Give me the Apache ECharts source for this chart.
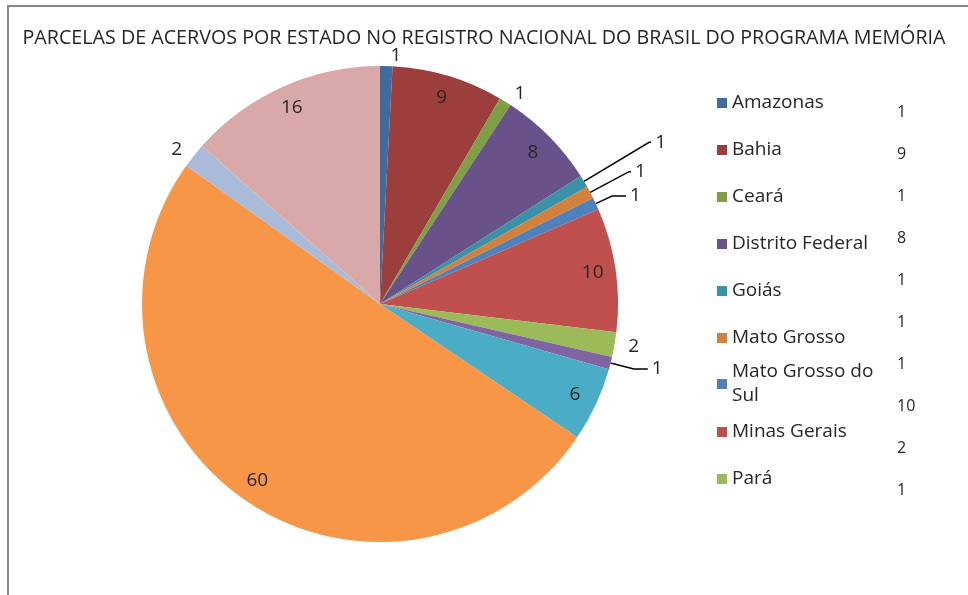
<!DOCTYPE html>
<html>
<head>
<meta charset="utf-8">
<script src="https://cdn.jsdelivr.net/npm/echarts@6/dist/echarts.min.js"></script>
<style>
  html, body { margin: 0; padding: 0; background: #fff; }
  #chart { width: 968px; height: 595px; }
</style>
</head>
<body>
<div id="chart"></div>
<script>
var chartTitle = 'PARCELAS DE ACERVOS POR ESTADO NO REGISTRO NACIONAL DO BRASIL DO PROGRAMA MEMÓRIA';
var states = ['Amazonas', 'Bahia', 'Ceará', 'Distrito Federal', 'Goiás', 'Mato Grosso', 'Mato Grosso do Sul',
  'Minas Gerais', 'Pará', 'Paraíba', 'Paraná', 'Rio de Janeiro', 'Rio Grande do Sul', 'São Paulo'];
var counts = [1, 9, 1, 8, 1, 1, 1, 10, 2, 1, 6, 60, 2, 16];
var sliceColors = ['#3e6c9f', '#9b3e3c', '#7f9f45', '#69518a', '#3a92a8', '#d3803a', '#4f81bd',
  '#c0504d', '#9bbb59', '#8064a2', '#4bacc6', '#f79646', '#aabbda', '#d9a8a8'];
// only the first rows made it into the legend and the number column
var legendTop = states.slice(0, 6);
var legendMid = states.slice(6, 7);
var legendLow = states.slice(7, 9);
var sideValues = counts.slice(0, 10);

var FONT = 'Open Sans';
var TXT = '#262626';
var center = [380, 304];
var R = 238;

// leader lines for the thin slices on the right (length, length2), null = no line
var leaders = [null, null, null, null, [76, 2], [44, 2], [18, 14], null, null, [24, 14], null, null, null, null];

var myChart = echarts.init(document.getElementById('chart'));

var mainData = states.map(function (name, i) {
  var small = counts[i] < 5;
  var ll = leaders[i];
  return {
    name: name,
    value: counts[i],
    itemStyle: { color: sliceColors[i] },
    label: { show: small },
    labelLine: ll ? { show: true, length: ll[0], length2: ll[1] } : { show: false, length: 10, length2: 0 }
  };
});

// second ring only carries the big numbers, placed near the rim like Excel does
var labelData = states.map(function (name, i) {
  return {
    name: name,
    value: counts[i],
    itemStyle: { color: 'rgba(0,0,0,0)' },
    label: { show: counts[i] >= 5 }
  };
});

function legendAt(names, top, extra) {
  var l = {
    data: names,
    orient: 'vertical',
    left: 717,
    top: top,
    padding: 0,
    itemGap: 27,
    itemWidth: 10,
    itemHeight: 10,
    icon: 'rect',
    selectedMode: false,
    textStyle: { fontFamily: FONT, fontSize: 19, color: TXT, lineHeight: 20 }
  };
  if (extra) Object.assign(l.textStyle, extra);
  return l;
}

var numberTexts = sideValues.map(function (v, i) {
  return {
    type: 'text',
    x: 897,
    y: 112 + i * 42.1,
    style: { text: String(v), fontFamily: FONT, fontSize: 16, fill: TXT, verticalAlign: 'middle' }
  };
});

var option = {
  animation: false,
  backgroundColor: '#fff',
  title: {
    text: chartTitle,
    left: 'center',
    top: 28,
    padding: 0,
    textStyle: { fontFamily: FONT, fontSize: 19.7, fontWeight: 'normal', color: TXT }
  },
  legend: [
    legendAt(legendTop, 93),
    legendAt(legendMid, 348, { lineHeight: 24, width: 155, overflow: 'break', padding: [24, 0, 0, 0] }),
    legendAt(legendLow, 422)
  ],
  graphic: [{
    type: 'rect',
    shape: { x: 8, y: 6, width: 1000, height: 700 },
    style: { fill: 'none', stroke: '#878787', lineWidth: 2 },
    silent: true
  }].concat(numberTexts),
  series: [
    {
      type: 'pie',
      center: center,
      radius: [0, R],
      startAngle: 90,
      clockwise: true,
      avoidLabelOverlap: false,
      silent: true,
      itemStyle: { borderWidth: 0 },
      label: {
        position: 'outside',
        fontFamily: FONT,
        fontSize: 19,
        color: TXT,
        formatter: '{c}',
        distanceToLabelLine: 4
      },
      labelLine: { lineStyle: { color: '#000', width: 1.5 } },
      data: mainData
    },
    {
      type: 'pie',
      center: center,
      radius: [186, R],
      startAngle: 90,
      clockwise: true,
      silent: true,
      avoidLabelOverlap: false,
      itemStyle: { borderWidth: 0 },
      label: {
        position: 'inside',
        fontFamily: FONT,
        fontSize: 19,
        color: TXT,
        formatter: '{c}'
      },
      labelLine: { show: false },
      data: labelData
    }
  ]
};

myChart.setOption(option);
</script>
</body>
</html>
